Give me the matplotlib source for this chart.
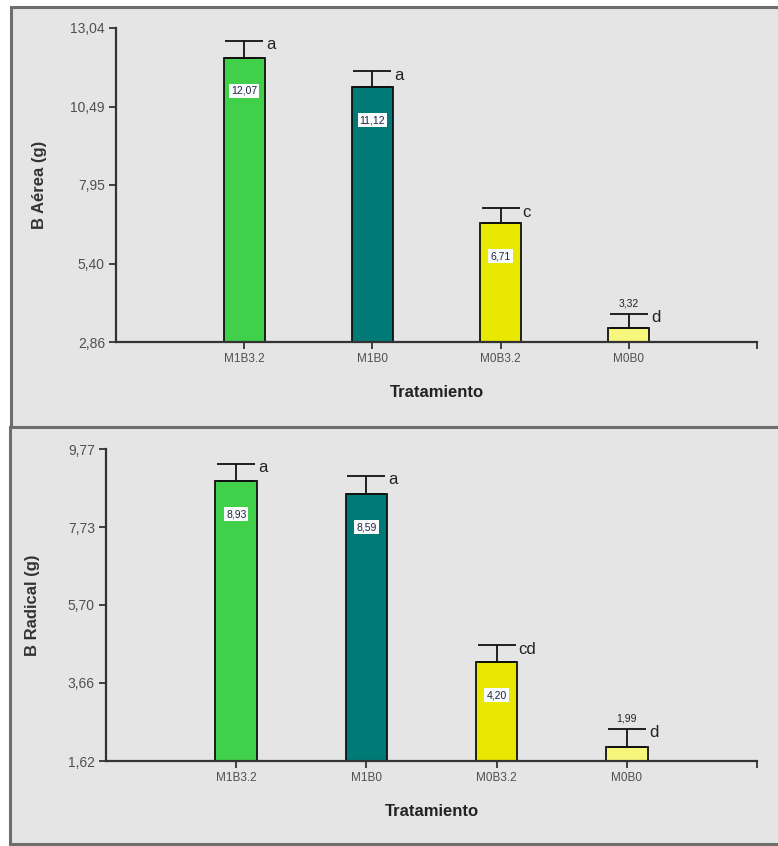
import numpy as np
import matplotlib
matplotlib.use("Agg")
import matplotlib.pyplot as plt
from matplotlib.patches import Rectangle

plt.rcParams["font.family"] = ["Liberation Sans", "DejaVu Sans"]

# ---------------- data ----------------
treatments = ["M1B3.2", "M1B0", "M0B3.2", "M0B0"]
bar_colors = ["#40d04a", "#007a76", "#e8e800", "#f6f67c"]

aerea_mean = [12.07, 11.12, 6.71, 3.32]
aerea_err = [0.55, 0.52, 0.49, 0.45]
aerea_letters = ["a", "a", "c", "d"]
aerea_ticks = [2.86, 5.40, 7.95, 10.49, 13.04]

radical_mean = [8.93, 8.59, 4.20, 1.99]
radical_err = [0.45, 0.48, 0.45, 0.47]
radical_letters = ["a", "a", "cd", "d"]
radical_ticks = [1.62, 3.66, 5.70, 7.73, 9.77]

W, H = 778, 846
fig = plt.figure(figsize=(W / 100, H / 100), dpi=100)
fig.patch.set_facecolor("white")


def fx(px):
    return px / W


def fy(py):
    return 1 - py / H


# panel frames
for top, bottom, left in [(7, 427, 11), (427, 844, 10)]:
    fig.add_artist(Rectangle((fx(left), fy(bottom)), 1.2, fy(top) - fy(bottom),
                             transform=fig.transFigure, facecolor="#e5e5e5",
                             edgecolor="#6e6e6e", linewidth=2.2, zorder=-5))


def draw_panel(rect, means, errs, letters, ticks, ylabel, label_x):
    ax = fig.add_axes(rect)
    ax.set_zorder(2)
    ax.set_facecolor("none")
    x = np.arange(1, len(means) + 1)

    ax.bar(x, np.array(means) - ticks[0], bottom=ticks[0], width=0.32,
           color=bar_colors, edgecolor="#111111", linewidth=1.3, zorder=2)
    ax.errorbar(x, means, yerr=[np.zeros(len(errs)), errs], fmt="none",
                ecolor="#111111", elinewidth=1.3, capsize=14, capthick=1.3, zorder=3)

    for i, (m, e, let) in enumerate(zip(means, errs, letters)):
        txt = f"{m:.2f}".replace(".", ",")
        if i == len(means) - 1:
            ax.annotate(txt, (x[i], m + e), xytext=(0, 10), textcoords="offset pixels",
                        ha="center", va="center", fontsize=7.5, color="#222222", zorder=5)
        else:
            ax.annotate(txt, (x[i], m), xytext=(0, -33), textcoords="offset pixels",
                        ha="center", va="center", fontsize=7.5, color="#222244", zorder=5,
                        bbox=dict(boxstyle="square,pad=0.2", facecolor="#f8fcfc",
                                  edgecolor="none"))
        ax.annotate(let, (x[i], m + e), xytext=(22, -4), textcoords="offset pixels",
                    ha="left", va="center", fontsize=12, color="#222222", zorder=5)

    ax.set_xlim(0, 5)
    ax.set_ylim(ticks[0], ticks[-1])
    ax.set_yticks(ticks)
    ax.set_yticklabels([f"{t:.2f}".replace(".", ",") for t in ticks])
    ax.set_xticks([1, 2, 3, 4, 5])
    ax.set_xticklabels(treatments + [""])

    for side in ["top", "right"]:
        ax.spines[side].set_visible(False)
    for side in ["left", "bottom"]:
        ax.spines[side].set_color("#333333")
        ax.spines[side].set_linewidth(1.6)
    ax.tick_params(axis="both", direction="out", length=5, width=1.3, color="#333333",
                   labelcolor="#505050", pad=3)
    ax.tick_params(axis="x", labelsize=8.5)
    ax.tick_params(axis="y", labelsize=10)

    ax.set_xlabel("Tratamiento", fontsize=12, fontweight="bold", color="#222222",
                  labelpad=14)
    ax.set_ylabel(ylabel, fontsize=12, fontweight="bold", color="#333333")
    ax.yaxis.set_label_coords(label_x, 0.5)
    return ax


draw_panel([fx(116), fy(342), fx(757) - fx(116), fy(28) - fy(342)],
           aerea_mean, aerea_err, aerea_letters, aerea_ticks, "B Aérea (g)", -0.108)
draw_panel([fx(106), fy(761), fx(757) - fx(106), fy(449) - fy(761)],
           radical_mean, radical_err, radical_letters, radical_ticks, "B Radical (g)", -0.101)

fig.savefig("out.png", dpi=100)
